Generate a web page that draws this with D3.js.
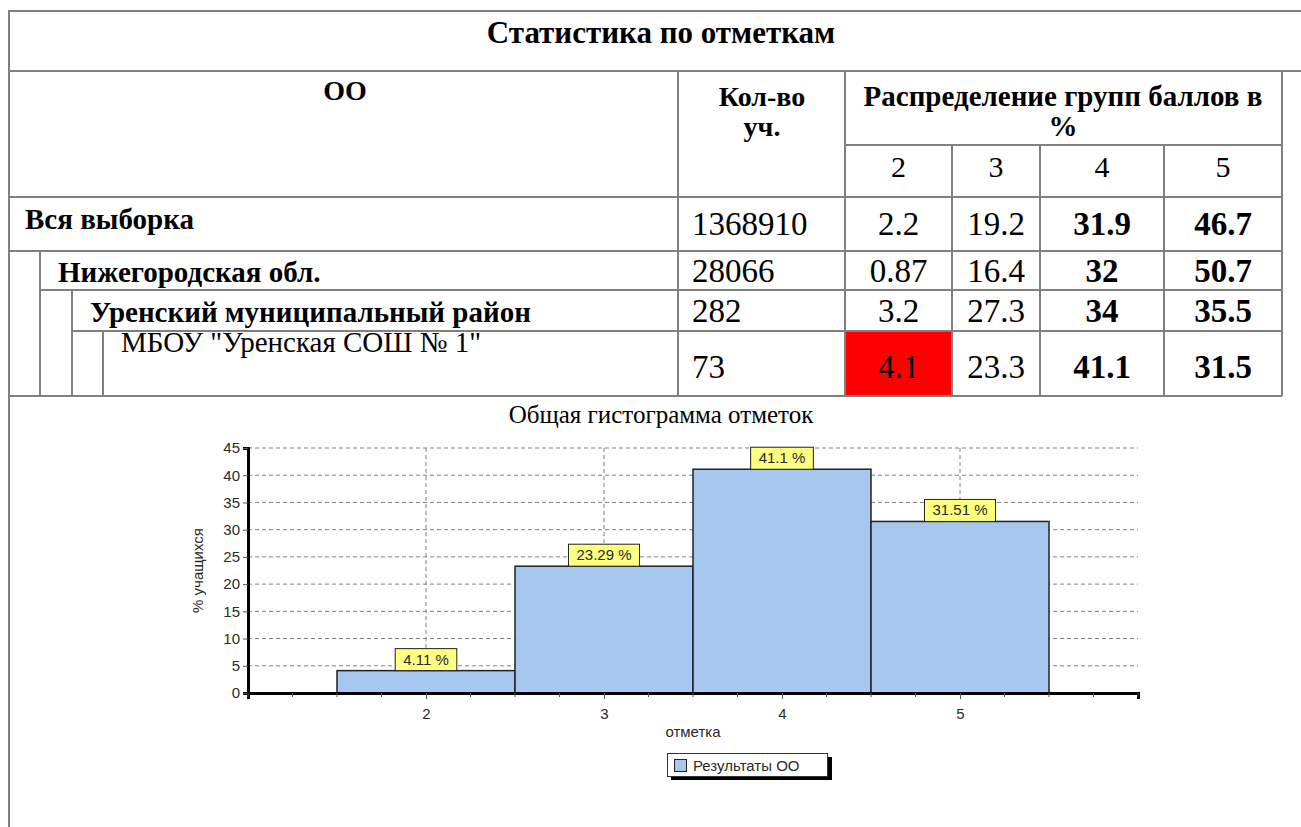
<!DOCTYPE html>
<html>
<head>
<meta charset="utf-8">
<script src="https://cdn.jsdelivr.net/npm/d3@7"></script>
<style>
  body { margin: 0; background: #fff; }
  .serif { font-family: "Liberation Serif", "Times New Roman", serif; }
  .sans { font-family: "Liberation Sans", Arial, sans-serif; }
</style>
</head>
<body>
<div id="chart"></div>
<script>
// Table data
var rowNames = ["Вся выборка", "Нижегородская обл.", "Уренский муниципальный район", "МБОУ \"Уренская СОШ № 1\""];
var rowCounts = ["1368910", "28066", "282", "73"];
var share2 = ["2.2", "0.87", "3.2", "4.1"];
var share3 = ["19.2", "16.4", "27.3", "23.3"];
var share4 = ["31.9", "32", "34", "41.1"];
var share5 = ["46.7", "50.7", "35.5", "31.5"];
var markHeaders = ["2", "3", "4", "5"];

// Histogram data
var marks = [2, 3, 4, 5];
var histValues = [4.11, 23.29, 41.1, 31.51];
var histLabels = ["4.11 %", "23.29 %", "41.1 %", "31.51 %"];
var yTicks = [0, 5, 10, 15, 20, 25, 30, 35, 40, 45];

var svgWidth = 1301, svgHeight = 827;
var svg = d3.select("#chart").append("svg")
    .attr("width", svgWidth)
    .attr("height", svgHeight);

var lineColor = "#808080";

function hline(y, x1, x2) {
    svg.append("line").attr("x1", x1).attr("x2", x2).attr("y1", y).attr("y2", y)
        .attr("stroke", lineColor).attr("stroke-width", 2);
}
function vline(x, y1, y2) {
    svg.append("line").attr("x1", x).attr("x2", x).attr("y1", y1).attr("y2", y2)
        .attr("stroke", lineColor).attr("stroke-width", 2);
}

// ---------- table ----------
var colX = [678, 845, 952, 1040, 1164, 1282];
var rowY = [197, 251, 290, 331, 396];
var indentX = [40, 72, 103];

// red highlight cell (mark 2 of the school)
svg.append("rect")
    .attr("x", colX[1] + 1).attr("y", rowY[3] + 1)
    .attr("width", colX[2] - colX[1] - 2).attr("height", rowY[4] - rowY[3] - 2)
    .attr("fill", "#ff0000");

hline(11, 9, 1301);
hline(71, 9, 1301);
vline(9, 10, 827);
vline(colX[0], 71, 396);
vline(colX[1], 71, 396);
vline(colX[5], 71, 396);
hline(145, colX[1], colX[5]);
[2, 3, 4].forEach(function(i){ vline(colX[i], 145, 396); });
hline(rowY[0], 9, colX[5]);
hline(rowY[1], 9, colX[5]);
hline(rowY[2], indentX[0], colX[5]);
hline(rowY[3], indentX[1], colX[5]);
hline(rowY[4], 9, colX[5]);
vline(indentX[0], rowY[1], rowY[4]);
vline(indentX[1], rowY[2], rowY[4]);
vline(indentX[2], rowY[3], rowY[4]);

function text(x, y, str, size, bold, anchor) {
    return svg.append("text").attr("class", "serif")
        .attr("x", x).attr("y", y)
        .attr("font-size", size)
        .attr("font-weight", bold ? "bold" : "normal")
        .attr("text-anchor", anchor || "start")
        .attr("fill", "#000")
        .text(str);
}

text(661, 43, "Статистика по отметкам", 31, true, "middle");
text(345, 100, "ОО", 28, true, "middle");
text(762, 106, "Кол-во", 28, true, "middle");
text(762, 136, "уч.", 28, true, "middle");
text(1063, 106, "Распределение групп баллов в", 29, true, "middle");
text(1063, 136, "%", 29, true, "middle");

var pctCenters = [];
for (var i = 1; i < 5; i++) pctCenters.push((colX[i] + colX[i + 1]) / 2);
markHeaders.forEach(function(m, i){ text(pctCenters[i], 177, m, 30, false, "middle"); });

var labelX = [25, 58, 90, 121];
var labelBase = [229, 282, 322, 352];
var numBase = [235, 282, 322, 378];

rowNames.forEach(function(name, r){
    text(labelX[r], labelBase[r], name, 29, r < 3, "start");
    text(692, numBase[r], rowCounts[r], 33, false, "start");
    text(pctCenters[0], numBase[r], share2[r], 33, false, "middle");
    text(pctCenters[1], numBase[r], share3[r], 33, false, "middle");
    text(pctCenters[2], numBase[r], share4[r], 33, true, "middle");
    text(pctCenters[3], numBase[r], share5[r], 33, true, "middle");
});

// ---------- histogram ----------
text(661, 423, "Общая гистограмма отметок", 25, false, "middle");

var plot = { left: 248, right: 1138, top: 448, bottom: 693 };
var fontSize = 15;
var textColor = "#2a2a2a";

var x = d3.scaleLinear().domain([1, 6]).range([plot.left, plot.right]);
var y = d3.scaleLinear().domain([0, 45]).range([plot.bottom, plot.top]);

var chartGroup = svg.append("g").attr("class", "sans");

// grid
chartGroup.selectAll(".hgrid").data(yTicks.slice(1)).enter().append("line")
    .attr("x1", plot.left).attr("x2", plot.right)
    .attr("y1", d => y(d)).attr("y2", d => y(d))
    .attr("stroke", "#808080").attr("stroke-dasharray", "4,3");
chartGroup.selectAll(".vgrid").data(marks).enter().append("line")
    .attr("x1", d => x(d)).attr("x2", d => x(d))
    .attr("y1", plot.top).attr("y2", plot.bottom)
    .attr("stroke", "#808080").attr("stroke-dasharray", "4,3");

// bars
chartGroup.selectAll(".bar").data(histValues).enter().append("rect")
    .attr("x", (d, i) => x(marks[i] - 0.5))
    .attr("y", d => y(d))
    .attr("width", (d, i) => x(marks[i] + 0.5) - x(marks[i] - 0.5))
    .attr("height", d => y(0) - y(d))
    .attr("fill", "#a6c8ee")
    .attr("stroke", "#222")
    .attr("stroke-width", 1.5);

// value labels
histValues.forEach(function(v, i){
    var g = chartGroup.append("g");
    var t = g.append("text")
        .attr("x", x(marks[i])).attr("y", y(v) - 6)
        .attr("text-anchor", "middle")
        .attr("font-size", fontSize)
        .attr("fill", textColor)
        .text(histLabels[i]);
    var w = t.node().getComputedTextLength() + 16;
    g.insert("rect", "text")
        .attr("x", x(marks[i]) - w / 2).attr("y", y(v) - 22)
        .attr("width", w).attr("height", 22)
        .attr("fill", "#ffff80")
        .attr("stroke", "#222");
});

// axes
var leftAxis = d3.axisLeft(y).tickValues(yTicks).tickSize(5).tickPadding(3);
var yAxis = chartGroup.append("g")
    .attr("transform", `translate(${plot.left},0)`)
    .call(leftAxis);

var bottomAxis = d3.axisBottom(x).tickValues(marks).tickFormat(d3.format("d"))
    .tickSize(6).tickPadding(9);
var xAxis = chartGroup.append("g")
    .attr("transform", `translate(0,${plot.bottom})`)
    .call(bottomAxis);

// minor ticks on x-axis (quarter steps)
var minor = d3.range(1, 6.001, 0.25).filter(d => marks.indexOf(d) < 0);
chartGroup.selectAll(".minor").data(minor).enter().append("line")
    .attr("x1", d => x(d)).attr("x2", d => x(d))
    .attr("y1", plot.bottom).attr("y2", plot.bottom + 4)
    .attr("stroke", "#555");

[yAxis, xAxis].forEach(function(a){
    a.select(".domain").attr("stroke", "#000").attr("stroke-width", 3);
    a.selectAll(".tick line").attr("stroke", "#555");
    a.selectAll(".tick text").attr("font-size", fontSize).attr("fill", textColor)
        .attr("font-family", "Liberation Sans, Arial, sans-serif");
});

// axis titles
chartGroup.append("text")
    .attr("x", (plot.left + plot.right) / 2).attr("y", 737)
    .attr("text-anchor", "middle").attr("font-size", fontSize).attr("fill", textColor)
    .text("отметка");
chartGroup.append("text")
    .attr("transform", `translate(203,${(plot.top + plot.bottom) / 2}) rotate(-90)`)
    .attr("text-anchor", "middle").attr("font-size", fontSize).attr("fill", textColor)
    .text("% учащихся");

// legend
var legend = chartGroup.append("g");
legend.append("rect").attr("x", 671).attr("y", 757).attr("width", 161).attr("height", 23).attr("fill", "#000");
legend.append("rect").attr("x", 667.5).attr("y", 753.5).attr("width", 160).attr("height", 23)
    .attr("fill", "#fff").attr("stroke", "#333");
legend.append("rect").attr("x", 674.5).attr("y", 759.5).attr("width", 12).attr("height", 12)
    .attr("fill", "#a6c8ee").attr("stroke", "#222");
legend.append("text").attr("x", 693).attr("y", 771).attr("font-size", fontSize).attr("fill", textColor)
    .text("Результаты ОО");
</script>
</body>
</html>
